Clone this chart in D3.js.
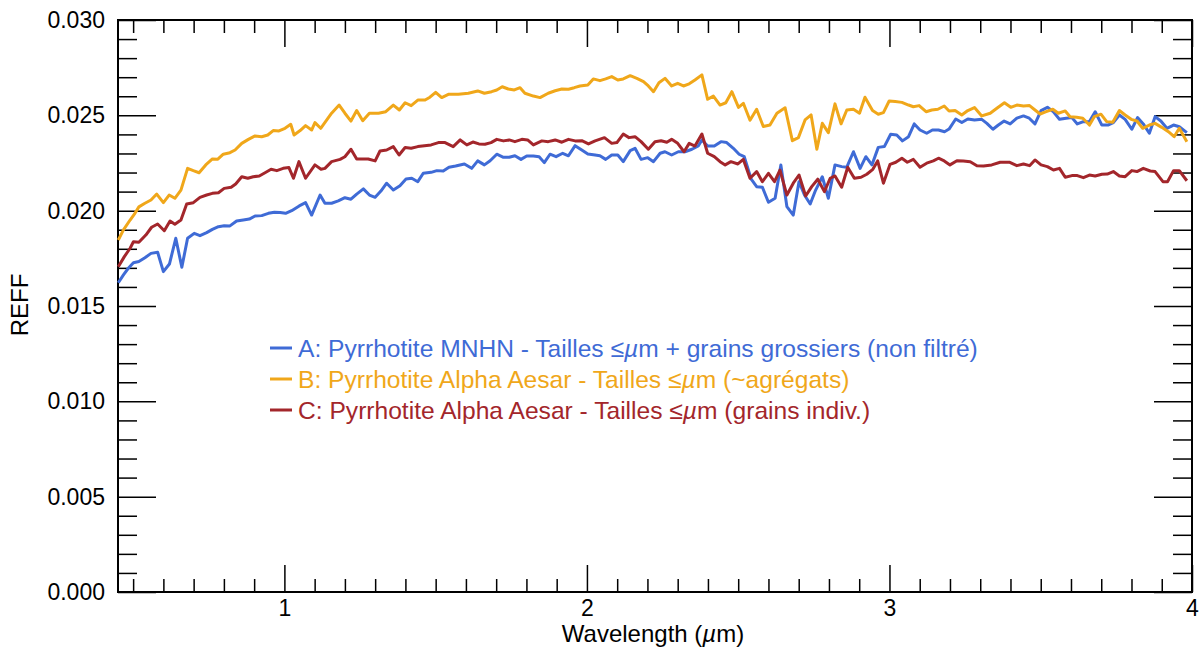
<!DOCTYPE html>
<html><head><meta charset="utf-8">
<script src="https://cdn.jsdelivr.net/npm/d3@7"></script>
<style>body{margin:0;background:#fff}svg{display:block}text{font-family:"Liberation Sans",Arial,Helvetica,sans-serif}</style>
</head><body><svg id="c" width="1201" height="648"></svg>
<script>
// ---- data (wavelength in µm, effective reflectance) ----
const wavelengthA=[0.451,0.468,0.484,0.501,0.519,0.539,0.559,0.581,0.600,0.620,0.641,0.661,0.680,0.702,0.721,0.743,0.762,0.782,0.801,0.820,0.842,0.864,0.884,0.903,0.925,0.947,0.967,0.986,1.004,1.024,1.049,1.070,1.090,1.118,1.134,1.156,1.178,1.200,1.220,1.239,1.261,1.281,1.300,1.319,1.338,1.360,1.382,1.402,1.421,1.441,1.459,1.485,1.504,1.525,1.544,1.566,1.595,1.619,1.639,1.661,1.680,1.702,1.724,1.743,1.762,1.782,1.801,1.823,1.842,1.859,1.878,1.898,1.920,1.939,1.961,1.983,2.003,2.027,2.043,2.062,2.082,2.102,2.120,2.143,2.159,2.179,2.201,2.220,2.242,2.258,2.280,2.302,2.324,2.347,2.368,2.380,2.399,2.421,2.443,2.462,2.484,2.503,2.520,2.543,2.561,2.580,2.600,2.622,2.641,2.661,2.682,2.701,2.719,2.738,2.756,2.778,2.798,2.820,2.842,2.859,2.881,2.903,2.922,2.942,2.963,2.983,3.004,3.024,3.043,3.063,3.082,3.101,3.123,3.142,3.162,3.182,3.197,3.219,3.239,3.259,3.281,3.305,3.322,3.342,3.360,3.379,3.399,3.421,3.443,3.462,3.481,3.501,3.522,3.542,3.562,3.584,3.603,3.621,3.641,3.661,3.680,3.702,3.722,3.740,3.760,3.779,3.801,3.820,3.839,3.859,3.878,3.897,3.917,3.939,3.958,3.983];
const reffA=[0.01622,0.01663,0.01698,0.01727,0.01733,0.01753,0.01776,0.01782,0.0168,0.0172,0.01855,0.01703,0.01855,0.01881,0.01869,0.01885,0.01902,0.01916,0.01921,0.0192,0.01946,0.01951,0.01956,0.01972,0.01974,0.01986,0.01992,0.0199,0.01986,0.02,0.02025,0.02042,0.01977,0.02082,0.02039,0.02039,0.02051,0.02068,0.0206,0.02087,0.02114,0.02082,0.0207,0.02103,0.02144,0.02108,0.02131,0.02166,0.0217,0.02152,0.02196,0.02201,0.0221,0.02208,0.02228,0.02234,0.02245,0.02222,0.02261,0.0224,0.02262,0.02296,0.0228,0.0228,0.02288,0.02269,0.02287,0.02287,0.02283,0.02252,0.02296,0.02283,0.02301,0.02288,0.02341,0.02318,0.02297,0.02292,0.02288,0.02269,0.02292,0.02292,0.02257,0.02315,0.02327,0.02269,0.02278,0.02257,0.02301,0.02309,0.02292,0.02309,0.02309,0.02322,0.02339,0.02371,0.02339,0.02339,0.02362,0.02357,0.02327,0.02296,0.02283,0.02165,0.02126,0.02123,0.02044,0.02065,0.0224,0.02021,0.01977,0.02152,0.02082,0.02035,0.02108,0.02178,0.02065,0.0224,0.02231,0.02228,0.02309,0.02222,0.02283,0.0224,0.02332,0.02336,0.02401,0.02397,0.02366,0.02388,0.02455,0.02423,0.02406,0.02423,0.02423,0.02414,0.02428,0.02481,0.02462,0.02481,0.02475,0.02479,0.02458,0.02427,0.02449,0.0247,0.02455,0.02485,0.02497,0.02485,0.02455,0.02525,0.02542,0.02519,0.02479,0.02485,0.02488,0.02455,0.02467,0.02467,0.02519,0.02449,0.02449,0.02462,0.02502,0.02479,0.02427,0.02488,0.02455,0.02406,0.02493,0.0247,0.02432,0.02449,0.0244,0.02409];
const wavelengthB=[0.451,0.468,0.490,0.506,0.519,0.539,0.559,0.578,0.600,0.619,0.638,0.658,0.680,0.699,0.718,0.740,0.762,0.780,0.798,0.820,0.837,0.859,0.881,0.903,0.925,0.945,0.963,0.982,1.002,1.021,1.032,1.052,1.070,1.090,1.101,1.120,1.156,1.181,1.200,1.220,1.239,1.259,1.281,1.311,1.335,1.360,1.380,1.399,1.419,1.441,1.465,1.481,1.500,1.520,1.542,1.575,1.608,1.639,1.661,1.685,1.702,1.720,1.740,1.760,1.779,1.795,1.823,1.845,1.872,1.895,1.917,1.939,1.958,1.977,2.003,2.021,2.043,2.062,2.082,2.102,2.120,2.143,2.165,2.187,2.203,2.220,2.238,2.258,2.280,2.300,2.319,2.338,2.357,2.380,2.399,2.418,2.440,2.459,2.479,2.501,2.517,2.539,2.561,2.583,2.605,2.628,2.655,2.679,2.699,2.721,2.741,2.760,2.778,2.798,2.820,2.840,2.859,2.881,2.901,2.919,2.944,2.963,2.980,2.999,3.019,3.041,3.063,3.079,3.098,3.121,3.140,3.160,3.181,3.197,3.217,3.239,3.259,3.281,3.305,3.333,3.355,3.380,3.401,3.421,3.443,3.463,3.481,3.498,3.518,3.540,3.558,3.581,3.597,3.619,3.639,3.661,3.677,3.699,3.718,3.738,3.760,3.779,3.799,3.818,3.837,3.859,3.878,3.900,3.922,3.941,3.958,3.983];
const reffB=[0.01846,0.01899,0.01951,0.01986,0.0202,0.02039,0.02056,0.02087,0.02042,0.02082,0.02065,0.02108,0.02222,0.0221,0.02199,0.0224,0.02271,0.0227,0.02296,0.02304,0.02318,0.02353,0.02374,0.02392,0.02388,0.02397,0.0242,0.02418,0.02432,0.02453,0.02397,0.0242,0.02446,0.02423,0.02462,0.02432,0.02511,0.02554,0.02511,0.0247,0.02525,0.02472,0.02511,0.02511,0.02519,0.02554,0.02528,0.02566,0.02551,0.0258,0.0258,0.02595,0.02621,0.02593,0.0261,0.0261,0.02616,0.02628,0.02616,0.02624,0.02633,0.0265,0.02638,0.02633,0.02645,0.02616,0.02601,0.02593,0.02616,0.02629,0.02638,0.02637,0.02645,0.02654,0.02659,0.02691,0.02682,0.02691,0.02703,0.02685,0.02691,0.02708,0.02694,0.02677,0.02654,0.02624,0.02671,0.02694,0.02654,0.02668,0.02654,0.02665,0.02685,0.02712,0.02584,0.02601,0.02554,0.02566,0.02624,0.02542,0.02563,0.02474,0.02532,0.02441,0.02449,0.02511,0.0254,0.02367,0.02383,0.02476,0.02502,0.02322,0.02458,0.02409,0.0256,0.02455,0.02528,0.02532,0.02511,0.02595,0.02525,0.02506,0.02514,0.02575,0.02572,0.02568,0.02554,0.02545,0.02551,0.02519,0.02528,0.02532,0.02549,0.02523,0.02525,0.02502,0.02525,0.02541,0.02497,0.02511,0.02537,0.02566,0.02542,0.02554,0.02549,0.02551,0.02528,0.02507,0.02519,0.02532,0.02511,0.02523,0.02493,0.0249,0.02485,0.02449,0.02493,0.02506,0.02467,0.02464,0.02525,0.02502,0.02479,0.0247,0.02432,0.02449,0.02458,0.02437,0.02414,0.02388,0.02432,0.02362];
const wavelengthC=[0.451,0.471,0.490,0.501,0.519,0.542,0.561,0.581,0.603,0.622,0.638,0.658,0.677,0.699,0.721,0.743,0.762,0.782,0.801,0.824,0.839,0.859,0.879,0.897,0.917,0.936,0.956,0.975,0.996,1.015,1.030,1.048,1.070,1.101,1.121,1.134,1.156,1.184,1.200,1.220,1.239,1.261,1.277,1.300,1.316,1.338,1.360,1.379,1.399,1.419,1.441,1.463,1.485,1.509,1.531,1.558,1.581,1.603,1.623,1.643,1.663,1.683,1.702,1.724,1.743,1.762,1.785,1.804,1.823,1.851,1.872,1.895,1.917,1.939,1.961,1.983,2.005,2.027,2.058,2.082,2.099,2.120,2.139,2.159,2.179,2.203,2.225,2.245,2.264,2.280,2.300,2.321,2.338,2.357,2.380,2.399,2.421,2.440,2.457,2.476,2.499,2.517,2.539,2.561,2.580,2.600,2.620,2.638,2.661,2.682,2.701,2.723,2.743,2.763,2.785,2.804,2.820,2.842,2.862,2.884,2.906,2.925,2.945,2.961,2.980,3.002,3.021,3.041,3.059,3.079,3.101,3.123,3.145,3.162,3.181,3.200,3.223,3.244,3.267,3.289,3.311,3.338,3.366,3.396,3.421,3.443,3.463,3.481,3.501,3.522,3.542,3.562,3.581,3.603,3.621,3.641,3.661,3.680,3.702,3.720,3.740,3.760,3.779,3.801,3.818,3.839,3.862,3.878,3.904,3.919,3.939,3.958,3.983];
const reffC=[0.01706,0.01759,0.01803,0.01837,0.01834,0.01872,0.01913,0.0193,0.01895,0.01946,0.01929,0.01951,0.02035,0.02042,0.0207,0.02082,0.02091,0.02094,0.02117,0.02123,0.0214,0.02178,0.0217,0.02178,0.02182,0.02199,0.02217,0.0221,0.02222,0.02226,0.0217,0.02257,0.0217,0.0224,0.02217,0.02222,0.02257,0.02269,0.02283,0.02322,0.02271,0.02271,0.02271,0.02261,0.02313,0.02318,0.02336,0.02292,0.02331,0.02327,0.02336,0.02341,0.02345,0.02357,0.02357,0.02336,0.02371,0.02345,0.0236,0.0235,0.02348,0.02357,0.02374,0.02366,0.02371,0.02362,0.02374,0.02371,0.02345,0.02366,0.02362,0.02371,0.02359,0.02374,0.02366,0.02367,0.0235,0.02366,0.02383,0.02353,0.02357,0.02402,0.02383,0.02388,0.02362,0.02322,0.02362,0.02367,0.02359,0.02374,0.02353,0.02309,0.02353,0.02339,0.02402,0.02301,0.02283,0.02257,0.0224,0.02257,0.02245,0.02269,0.0217,0.02205,0.02152,0.02196,0.02152,0.02213,0.02082,0.02144,0.02187,0.02077,0.02126,0.02165,0.021,0.0217,0.02182,0.02123,0.02228,0.0217,0.02175,0.02191,0.02217,0.02261,0.02144,0.02243,0.02254,0.02275,0.02254,0.02269,0.02228,0.02249,0.02261,0.02275,0.02261,0.0224,0.02262,0.02261,0.02257,0.02236,0.02234,0.0224,0.02254,0.02254,0.02236,0.02245,0.02236,0.02266,0.0224,0.02231,0.02213,0.02222,0.02175,0.02184,0.02184,0.02173,0.02187,0.02182,0.02191,0.02192,0.02205,0.02182,0.02178,0.0221,0.02205,0.02222,0.02208,0.02205,0.02152,0.02152,0.0221,0.0221,0.02157];
const seriesKeys=["A","B","C"];
const seriesLabels=["A: Pyrrhotite MNHN - Tailles ≤|µ|m + grains grossiers (non filtré)","B: Pyrrhotite Alpha Aesar - Tailles ≤|µ|m (~agrégats)","C: Pyrrhotite Alpha Aesar - Tailles ≤|µ|m (grains indiv.)"];
const seriesColors=["#3f6bd6","#f0a71a","#a3262b"];
const xMajorTicks=[1,2,3,4];
const yMajorTicks=[0,0.005,0.010,0.015,0.020,0.025,0.030];
const xDomain=[0.45,4.0], yDomain=[0,0.030];

// ---- drawing ----
const svg=d3.select("#c");
const L=118,R=1192,T=20,B=592;
const FONT="Liberation Sans, Arial, sans-serif";
const x=d3.scaleLinear().domain(xDomain).range([L,R]);
const y=d3.scaleLinear().domain(yDomain).range([B,T]);
const xMinor=d3.range(5,40).map(d=>d/10).filter(d=>!xMajorTicks.includes(d));
const yMinor=d3.range(1,30).filter(d=>d%5!==0).map(d=>d/1000);

function styleAxis(g){g.select(".domain").remove();g.attr("font-family",FONT).attr("font-size",23);g.selectAll("line").attr("stroke","#000").attr("stroke-width",1.5);g.selectAll("text").attr("fill","#000");}
// bottom
svg.append("g").attr("transform",`translate(0,${B})`).call(d3.axisBottom(x).tickValues(xMinor).tickSize(-13).tickFormat("")).call(styleAxis);
svg.append("g").attr("transform",`translate(0,${B})`).call(d3.axisBottom(x).tickValues(xMajorTicks).tickSize(-27).tickPadding(8).tickFormat(d3.format("d"))).call(styleAxis);
// top
svg.append("g").attr("transform",`translate(0,${T})`).call(d3.axisTop(x).tickValues(xMinor).tickSize(-13).tickFormat("")).call(styleAxis);
svg.append("g").attr("transform",`translate(0,${T})`).call(d3.axisTop(x).tickValues(xMajorTicks).tickSize(-27).tickFormat("")).call(styleAxis);
// left
svg.append("g").attr("transform",`translate(${L},0)`).call(d3.axisLeft(y).tickValues(yMinor).tickSize(-19).tickFormat("")).call(styleAxis);
svg.append("g").attr("transform",`translate(${L},0)`).call(d3.axisLeft(y).tickValues(yMajorTicks).tickSize(-38).tickPadding(13).tickFormat(d3.format(".3f"))).call(styleAxis);
// right
svg.append("g").attr("transform",`translate(${R},0)`).call(d3.axisRight(y).tickValues(yMinor).tickSize(-19).tickFormat("")).call(styleAxis);
svg.append("g").attr("transform",`translate(${R},0)`).call(d3.axisRight(y).tickValues(yMajorTicks).tickSize(-38).tickFormat("")).call(styleAxis);
// frame
svg.append("rect").attr("x",L).attr("y",T).attr("width",R-L).attr("height",B-T).attr("fill","none").attr("stroke","#000").attr("stroke-width",2);

// lines
const wl={A:wavelengthA,B:wavelengthB,C:wavelengthC}, rv={A:reffA,B:reffB,C:reffC};
const line=d3.line().x(d=>x(d[0])).y(d=>y(d[1]));
seriesKeys.forEach((k,i)=>{
  const pts=wl[k].map((w,j)=>[w,rv[k][j]]);
  svg.append("path").datum(pts).attr("d",line).attr("fill","none").attr("stroke",seriesColors[i]).attr("stroke-width",3).attr("stroke-linejoin","round");
});

// legend
const legY=[348,379,410];
seriesKeys.forEach((k,i)=>{
  svg.append("line").attr("x1",270).attr("x2",292).attr("y1",legY[i]).attr("y2",legY[i]).attr("stroke",seriesColors[i]).attr("stroke-width",3);
  const t=svg.append("text").attr("x",298).attr("y",legY[i]+8.5).attr("font-size",24.6).attr("fill",seriesColors[i]);
  seriesLabels[i].split("|").forEach((part,j)=>{t.append("tspan").text(part).attr("font-style",j===1?"italic":null);});
});

// axis titles
const xt=svg.append("text").attr("x",653).attr("y",642).attr("text-anchor","middle").attr("font-size",24).attr("fill","#000");
xt.append("tspan").text("Wavelength (");xt.append("tspan").text("µ").attr("font-style","italic");xt.append("tspan").text("m)");
svg.append("text").attr("transform","translate(28,305) rotate(-90)").attr("text-anchor","middle").attr("font-size",24).attr("fill","#000").text("REFF");
</script></body></html>
